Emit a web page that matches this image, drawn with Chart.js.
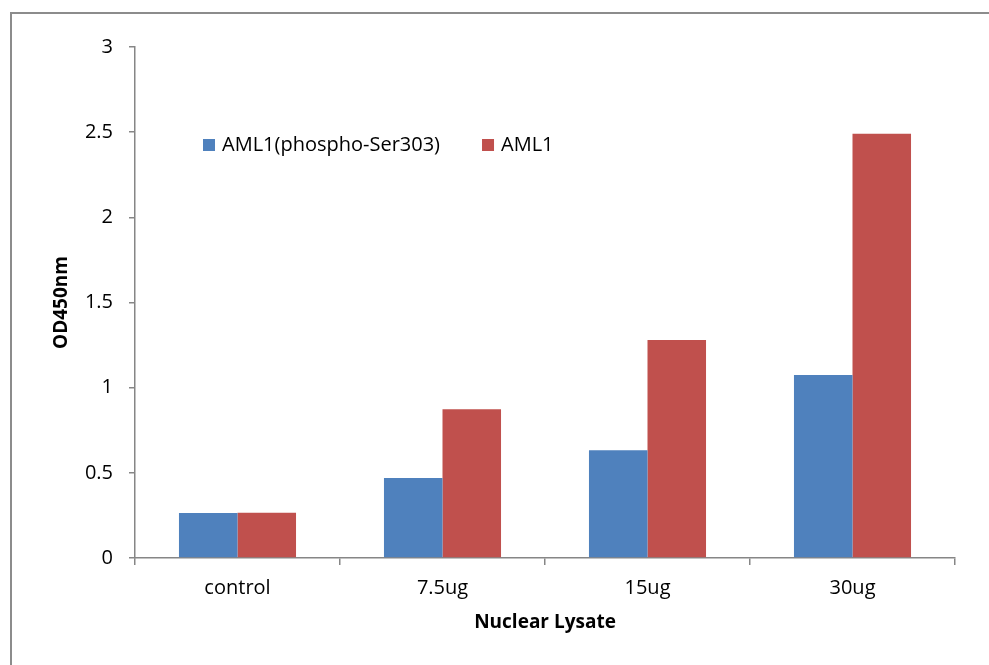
<!DOCTYPE html>
<html>
<head>
<meta charset="utf-8">
<script src="https://cdn.jsdelivr.net/npm/chart.js@4.4.1/dist/chart.umd.min.js"></script>
<style>
  html, body { margin: 0; padding: 0; background: #fff; }
  #wrap { position: relative; width: 989px; height: 665px; }
  #frame { position: absolute; left: 10px; top: 12px; right: 0; bottom: 0;
           border-top: 2px solid #8c8c8c; border-left: 2px solid #8c8c8c; }
  canvas { position: absolute; left: 0; top: 0; }
</style>
</head>
<body>
<div id="wrap">
  <div id="frame"></div>
  <canvas id="chart" width="989" height="665"></canvas>
</div>
<script>
const categories = ["control", "7.5ug", "15ug", "30ug"]
const phosphoValues = [0.264, 0.47, 0.632, 1.075]
const totalValues = [0.266, 0.873, 1.28, 2.49]
const seriesNames = ["AML1(phospho-Ser303)", "AML1"]
const seriesColors = ["#4f81bd", "#c0504d"]

const axisGray = "#868686"
const fontFamily = "'Open Sans', 'Liberation Sans', sans-serif"

// legend sits inside the plot, top-left, like the original
const insideLegend = {
    id: "insideLegend",
    afterDraw(chart) {
        const ctx = chart.ctx
        const area = chart.chartArea
        let x = area.left + 68
        const y = 145
        ctx.save()
        ctx.font = "20px " + fontFamily
        ctx.textBaseline = "middle"
        chart.data.datasets.forEach(ds => {
            ctx.fillStyle = ds.backgroundColor
            ctx.fillRect(x, y - 6, 12, 12)
            ctx.fillStyle = "#000"
            ctx.fillText(ds.label, x + 19, y)
            x += 19 + ctx.measureText(ds.label).width + 42
        })
        ctx.restore()
    }
}

new Chart(document.getElementById("chart"), {
    type: "bar",
    data: {
        labels: categories,
        datasets: [{
            label: seriesNames[0],
            data: phosphoValues,
            backgroundColor: seriesColors[0],
            barPercentage: 1,
            categoryPercentage: 0.571
        }, {
            label: seriesNames[1],
            data: totalValues,
            backgroundColor: seriesColors[1],
            barPercentage: 1,
            categoryPercentage: 0.571
        }]
    },
    options: {
        responsive: false,
        animation: false,
        layout: {padding: {left: 0, top: 47, right: 34, bottom: 0}},
        plugins: {
            legend: {display: false},
            tooltip: {enabled: false}
        },
        scales: {
            x: {
                afterFit: scale => { scale.height = 107 },
                border: {color: axisGray, width: 1.5},
                grid: {offset: true, drawOnChartArea: false, tickLength: 7, color: axisGray, lineWidth: 1.5},
                ticks: {color: "#000", padding: 11, font: {family: fontFamily, size: 20}},
                title: {
                    display: true,
                    text: "Nuclear Lysate",
                    color: "#000",
                    padding: {top: 0, bottom: 31},
                    font: {family: fontFamily, size: 19, weight: "bold"}
                }
            },
            y: {
                min: 0,
                max: 3,
                afterFit: scale => { scale.width = 135 },
                border: {color: axisGray, width: 1.5},
                grid: {drawOnChartArea: false, tickLength: 6, color: axisGray, lineWidth: 1.5},
                ticks: {
                    stepSize: 0.5,
                    color: "#000",
                    padding: 16,
                    font: {family: fontFamily, size: 20},
                    callback: value => String(value)
                },
                title: {
                    display: true,
                    text: "OD450nm",
                    color: "#000",
                    padding: {top: 50, bottom: 0},
                    font: {family: fontFamily, size: 19, weight: "bold"}
                }
            }
        }
    },
    plugins: [insideLegend]
})
</script>
</body>
</html>
